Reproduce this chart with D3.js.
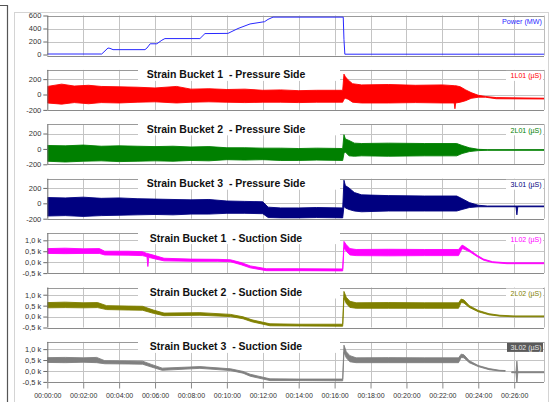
<!DOCTYPE html>
<html><head><meta charset="utf-8">
<script src="https://cdn.jsdelivr.net/npm/d3@7/dist/d3.min.js"></script>
<style>
body{margin:0;background:#fff;}
svg{display:block;font-family:"Liberation Sans",Arial,sans-serif;}
</style>
</head><body>
<svg id="c" width="552" height="402"></svg>
<script>
// ---------- time axis ----------
const timeTicks = [0,2,4,6,8,10,12,14,16,18,20,22,24,26];           // minutes
const timeLabels = ["00:00:00","00:02:00","00:04:00","00:06:00","00:08:00","00:10:00","00:12:00",
                    "00:14:00","00:16:00","00:18:00","00:20:00","00:22:00","00:24:00","00:26:00"];
const timeEnd = 27.66;

// ---------- y tick labels ----------
const powerTicks = [0,200,400,600];
const powerTickLabels = ["0","200","400","600"];
const pressureTicks = [-200,0,200];
const pressureTickLabels = ["-200","0","200"];
const suctionTicks = [-500,0,500,1000];
const suctionTickLabels = ["-0,5 k","0,0 k","0,5 k","1,0 k"];

// ---------- titles / labels ----------
const panelTitles = ["", "Strain Bucket 1  - Pressure Side","Strain Bucket 2  - Pressure Side","Strain Bucket 3  - Pressure Side",
                     "Strain Bucket 1  - Suction Side","Strain Bucket 2  - Suction Side","Strain Bucket 3  - Suction Side"];
const seriesLabels = ["Power (MW)","1L01 (µS)","2L01 (µS)","3L01 (µS)","1L02 (µS)","2L02 (µS)","3L02 (µS)"];
const seriesColors = ["#2828ff","#ff0000","#008000","#000080","#ff00ff","#808000","#808080"];

// ---------- Power (MW) ----------
const powerT  = [0, 3.03, 3.38, 3.49, 3.66, 5.44, 5.55, 5.73, 6.1, 6.38, 6.55, 8.5, 8.78, 10.06, 10.62, 11.29, 12.1, 12.29, 12.57, 16.48, 16.52, 16.57, 27.66];
const powerMW = [8, 8, 100, 95, 75, 75, 100, 165, 165, 220, 245, 245, 322, 325, 400, 470, 505, 540, 575, 575, 230, 5, 5];

// ---------- Strain Bucket 1 Pressure (1L01) envelope ----------
const s1pT  = [0,0.8,1.5,2.3,3,4,5,6,7.2,8,9,10,11,12,13,14,15,16.45,16.52,16.6,16.75,17.0,17.5,19,20.5,22,22.66,22.7,22.74,23.0,23.3,23.6,24.0,24.4,25,27.66];
const s1pHi = [105,135,110,120,105,100,95,85,105,70,75,65,70,55,60,50,55,55,265,230,190,140,125,130,120,125,115,115,115,100,60,25,-10,-25,-40,-48];
const s1pLo = [-110,-125,-105,-120,-105,-110,-100,-95,-110,-100,-95,-100,-105,-100,-100,-105,-100,-100,-60,-50,-60,-100,-110,-110,-105,-110,-110,-185,-110,-100,-80,-50,-35,-35,-55,-58];

// ---------- Strain Bucket 2 Pressure (2L01) ----------
const s2pT  = [0,1,2,3,4,5,6,7,8,9,10,11,12,13,14,15,16.45,16.52,16.6,16.8,17.1,17.5,19,21,22.8,23.1,23.5,24.0,24.5,27.66];
const s2pHi = [45,40,50,35,40,35,30,35,25,30,15,15,10,10,5,10,5,185,130,110,75,70,75,70,70,45,15,-5,-10,-10];
const s2pLo = [-160,-170,-160,-155,-165,-160,-155,-160,-150,-155,-140,-145,-140,-150,-150,-145,-150,-60,-40,-90,-95,-90,-95,-90,-90,-60,-35,-22,-18,-18];

// ---------- Strain Bucket 3 Pressure (3L01) ----------
const s3pT  = [0,1,2,3,4,5,6,7,8,9,10,11,12,12.3,13,14,15,16.45,16.52,16.6,16.8,17.1,17.5,19,21,22.8,23.1,23.5,24.0,24.5,26.1,26.15,26.2,27.66];
const s3pHi = [75,70,80,65,70,60,55,50,45,50,30,25,20,-50,-60,-60,-55,-60,300,230,200,140,110,100,95,95,60,10,-25,-35,-35,-35,-35,-35];
const s3pLo = [-165,-160,-170,-160,-155,-150,-145,-150,-140,-140,-130,-130,-135,-185,-190,-190,-185,-190,-40,-60,-80,-100,-110,-100,-100,-100,-80,-55,-45,-45,-45,-150,-45,-45];

// ---------- Strain Bucket 1 Suction (1L02) ----------
const s1sT  = [0,1,2,2.9,3.2,4.5,5.3,5.55,5.6,5.65,6.0,6.5,8,9.5,10.2,10.8,11.3,12.2,14,16.45,16.52,16.65,16.85,17.2,19,21,22.9,23.1,23.2,23.55,23.95,24.3,24.8,25.6,27.66];
const s1sHi = [620,640,610,620,500,500,480,400,400,380,300,180,140,130,110,-20,-170,-300,-300,-310,950,800,620,580,590,580,580,780,740,540,310,140,20,-30,-30];
const s1sLo = [400,390,400,400,330,320,300,250,-200,220,150,60,40,40,20,-120,-260,-390,-390,-400,650,500,330,300,290,300,300,620,600,460,250,90,-20,-70,-70];

// ---------- Strain Bucket 2 Suction (2L02) ----------
const s2sT  = [0,1,2,2.8,3.3,4.5,5.3,5.9,6.5,8.5,10.2,10.9,11.4,12.4,14,16.45,16.52,16.65,16.85,17.2,19,21,22.9,23.05,23.2,23.5,24.0,24.6,25.2,26,27.66];
const s2sHi = [640,660,630,640,500,480,470,300,160,180,100,-10,-150,-330,-350,-350,1150,880,700,630,640,630,630,800,760,500,280,130,60,30,30];
const s2sLo = [400,410,400,410,320,300,290,150,40,60,0,-100,-240,-420,-430,-440,850,600,420,380,380,380,380,650,620,420,220,80,20,-10,-10];

// ---------- Strain Bucket 3 Suction (3L02) ----------
const s3sT  = [0,1,2,2.75,3.2,4.5,5.3,5.8,6.4,8.5,10.2,10.9,11.3,12.4,14,16.45,16.52,16.65,16.85,17.2,19,21,22.9,23.05,23.2,23.5,24.0,24.6,25.2,25.5,25.51,25.85,25.86,26.1,26.15,26.2,27.66];
const s3sHi = [610,620,600,620,470,460,450,300,130,200,100,-20,-150,-360,-370,-370,1180,880,700,600,610,600,600,770,740,470,250,110,30,20,null,null,-40,-40,450,-40,-40];
const s3sLo = [390,380,400,380,330,320,310,180,30,120,20,-100,-240,-440,-440,-450,850,600,420,380,380,380,380,620,600,380,200,60,0,-10,null,null,-80,-80,-570,-80,-80];

// ---------- build panel table ----------
const panels = [
  {kind:"power", domain:[-15,600], ticks:powerTicks, labels:powerTickLabels, t:powerT, v:powerMW},
  {kind:"band", domain:[-200,320], ticks:pressureTicks, labels:pressureTickLabels, t:s1pT, hi:s1pHi, lo:s1pLo},
  {kind:"band", domain:[-200,320], ticks:pressureTicks, labels:pressureTickLabels, t:s2pT, hi:s2pHi, lo:s2pLo},
  {kind:"band", domain:[-200,320], ticks:pressureTicks, labels:pressureTickLabels, t:s3pT, hi:s3pHi, lo:s3pLo},
  {kind:"band", domain:[-500,1330], ticks:suctionTicks, labels:suctionTickLabels, t:s1sT, hi:s1sHi, lo:s1sLo},
  {kind:"band", domain:[-500,1330], ticks:suctionTicks, labels:suctionTickLabels, t:s2sT, hi:s2sHi, lo:s2sLo},
  {kind:"band", domain:[-500,1330], ticks:suctionTicks, labels:suctionTickLabels, t:s3sT, hi:s3sHi, lo:s3sLo}
];

const svg = d3.select("#c");
const L = 47.3, R = 544;
const x = d3.scaleLinear().domain([0, timeEnd]).range([L, R]);

// outer frame
svg.append("rect").attr("x",14.5).attr("y",12.5).attr("width",534).attr("height",395)
   .attr("fill","#fff").attr("stroke","#d4d4d4");
svg.append("path").attr("d","M0,5.5H7.5V402").attr("fill","none").attr("stroke","#555").attr("stroke-width",1.2);

const defs = svg.append("defs");

panels.forEach((p, i) => {
  const top = 15.5 + i*54.4;
  const h = 40;
  const bot = top + h;
  const y = d3.scaleLinear().domain(p.domain).range([bot, top]);
  const g = svg.append("g");

  g.append("rect").attr("x",L).attr("y",top).attr("width",R-L).attr("height",h).attr("fill","#fff");

  // horizontal grid
  g.selectAll(".hg").data(p.ticks.filter(v => Math.abs(y(v)-top)>1 && Math.abs(y(v)-bot)>1)).enter()
    .append("line").attr("x1",L).attr("x2",R)
    .attr("y1",v=>Math.round(y(v))+0.5).attr("y2",v=>Math.round(y(v))+0.5)
    .attr("stroke","#c4c4c4");
  // vertical grid
  g.selectAll(".vg").data(timeTicks.filter(t=>t>0)).enter()
    .append("line").attr("y1",top).attr("y2",bot)
    .attr("x1",t=>Math.round(x(t))+0.5).attr("x2",t=>Math.round(x(t))+0.5)
    .attr("stroke","#c4c4c4");

  // borders
  g.append("line").attr("x1",L).attr("x2",R).attr("y1",Math.round(top)+0.5).attr("y2",Math.round(top)+0.5).attr("stroke","#9a9a9a");
  g.append("line").attr("x1",L).attr("x2",R).attr("y1",Math.round(bot)+0.5).attr("y2",Math.round(bot)+0.5).attr("stroke","#8a8a8a");
  g.append("line").attr("x1",R+0.5).attr("x2",R+0.5).attr("y1",top).attr("y2",bot).attr("stroke","#bdbdbd");

  // data
  const cid = "clip"+i;
  defs.append("clipPath").attr("id",cid).append("rect").attr("x",L).attr("y",top).attr("width",R-L).attr("height",h);
  const dg = g.append("g").attr("clip-path",`url(#${cid})`);
  const idx = d3.range(p.t.length);
  if (p.kind === "power") {
    const line = d3.line().x(k=>x(p.t[k])).y(k=>y(p.v[k]));
    dg.append("path").attr("d",line(idx)).attr("fill","none").attr("stroke",seriesColors[i]).attr("stroke-width",1);
  } else {
    const area = d3.area().defined(k=>p.hi[k]!=null)
      .x(k=>x(p.t[k])).y0(k=>y(p.lo[k])).y1(k=>y(p.hi[k]));
    dg.append("path").attr("d",area(idx)).attr("fill",seriesColors[i])
      .attr("stroke",seriesColors[i]).attr("stroke-width",0.9).attr("stroke-linejoin","round");
  }

  // y axis
  const ax = d3.axisLeft(y).tickValues(p.ticks).tickFormat((d,j)=>p.labels[j]).tickSize(4).tickPadding(2);
  const ag = g.append("g").attr("transform",`translate(${L},0)`).call(ax);
  ag.select(".domain").attr("stroke","#6a6a6a").attr("d",`M0.5,${top}V${bot}`);
  ag.selectAll(".tick line").attr("stroke","#6a6a6a");
  ag.selectAll("text").attr("fill","#333").attr("font-size","7.5px").attr("font-family","Liberation Sans, Arial, sans-serif");

  // title
  if (panelTitles[i]) {
    g.append("rect").attr("x",138).attr("y",top-5).attr("width",202).attr("height",16).attr("fill","#fff");
    g.append("text").attr("x",226).attr("y",top+8.5).attr("text-anchor","middle")
      .attr("font-size","10.5px").attr("font-weight","bold").attr("fill","#111")
      .style("white-space","pre").text(panelTitles[i]);
  }

  // series label
  if (i === 6) {
    g.append("rect").attr("x",507).attr("y",top+1).attr("width",36).attr("height",9).attr("fill","#5a5a5a");
    g.append("text").attr("x",541.5).attr("y",top+8.2).attr("text-anchor","end")
      .attr("font-size","7px").attr("fill","#e8e8e8").text(seriesLabels[i]);
  } else if (i === 0) {
    g.append("text").attr("x",542).attr("y",top+8.5).attr("text-anchor","end")
      .attr("font-size","7.2px").attr("fill",seriesColors[i]).text(seriesLabels[i]);
  } else {
    g.append("rect").attr("x",506).attr("y",top+1).attr("width",37).attr("height",10).attr("fill","#fff");
    g.append("text").attr("x",541.5).attr("y",top+8.5).attr("text-anchor","end")
      .attr("font-size","7px").attr("fill",seriesColors[i]).text(seriesLabels[i]);
  }

  // x axis on last panel
  if (i === panels.length-1) {
    const xa = d3.axisBottom(x).tickValues(timeTicks).tickFormat((d,j)=>timeLabels[j]).tickSize(6).tickPadding(5);
    const xg = g.append("g").attr("transform",`translate(0,${Math.round(bot)+0.5})`).call(xa);
    xg.select(".domain").remove();
    xg.selectAll(".tick line").attr("stroke","#8a8a8a");
    xg.selectAll("text").attr("fill","#333").attr("font-size","7px").attr("font-family","Liberation Sans, Arial, sans-serif");
  }
});
</script>
</body></html>
